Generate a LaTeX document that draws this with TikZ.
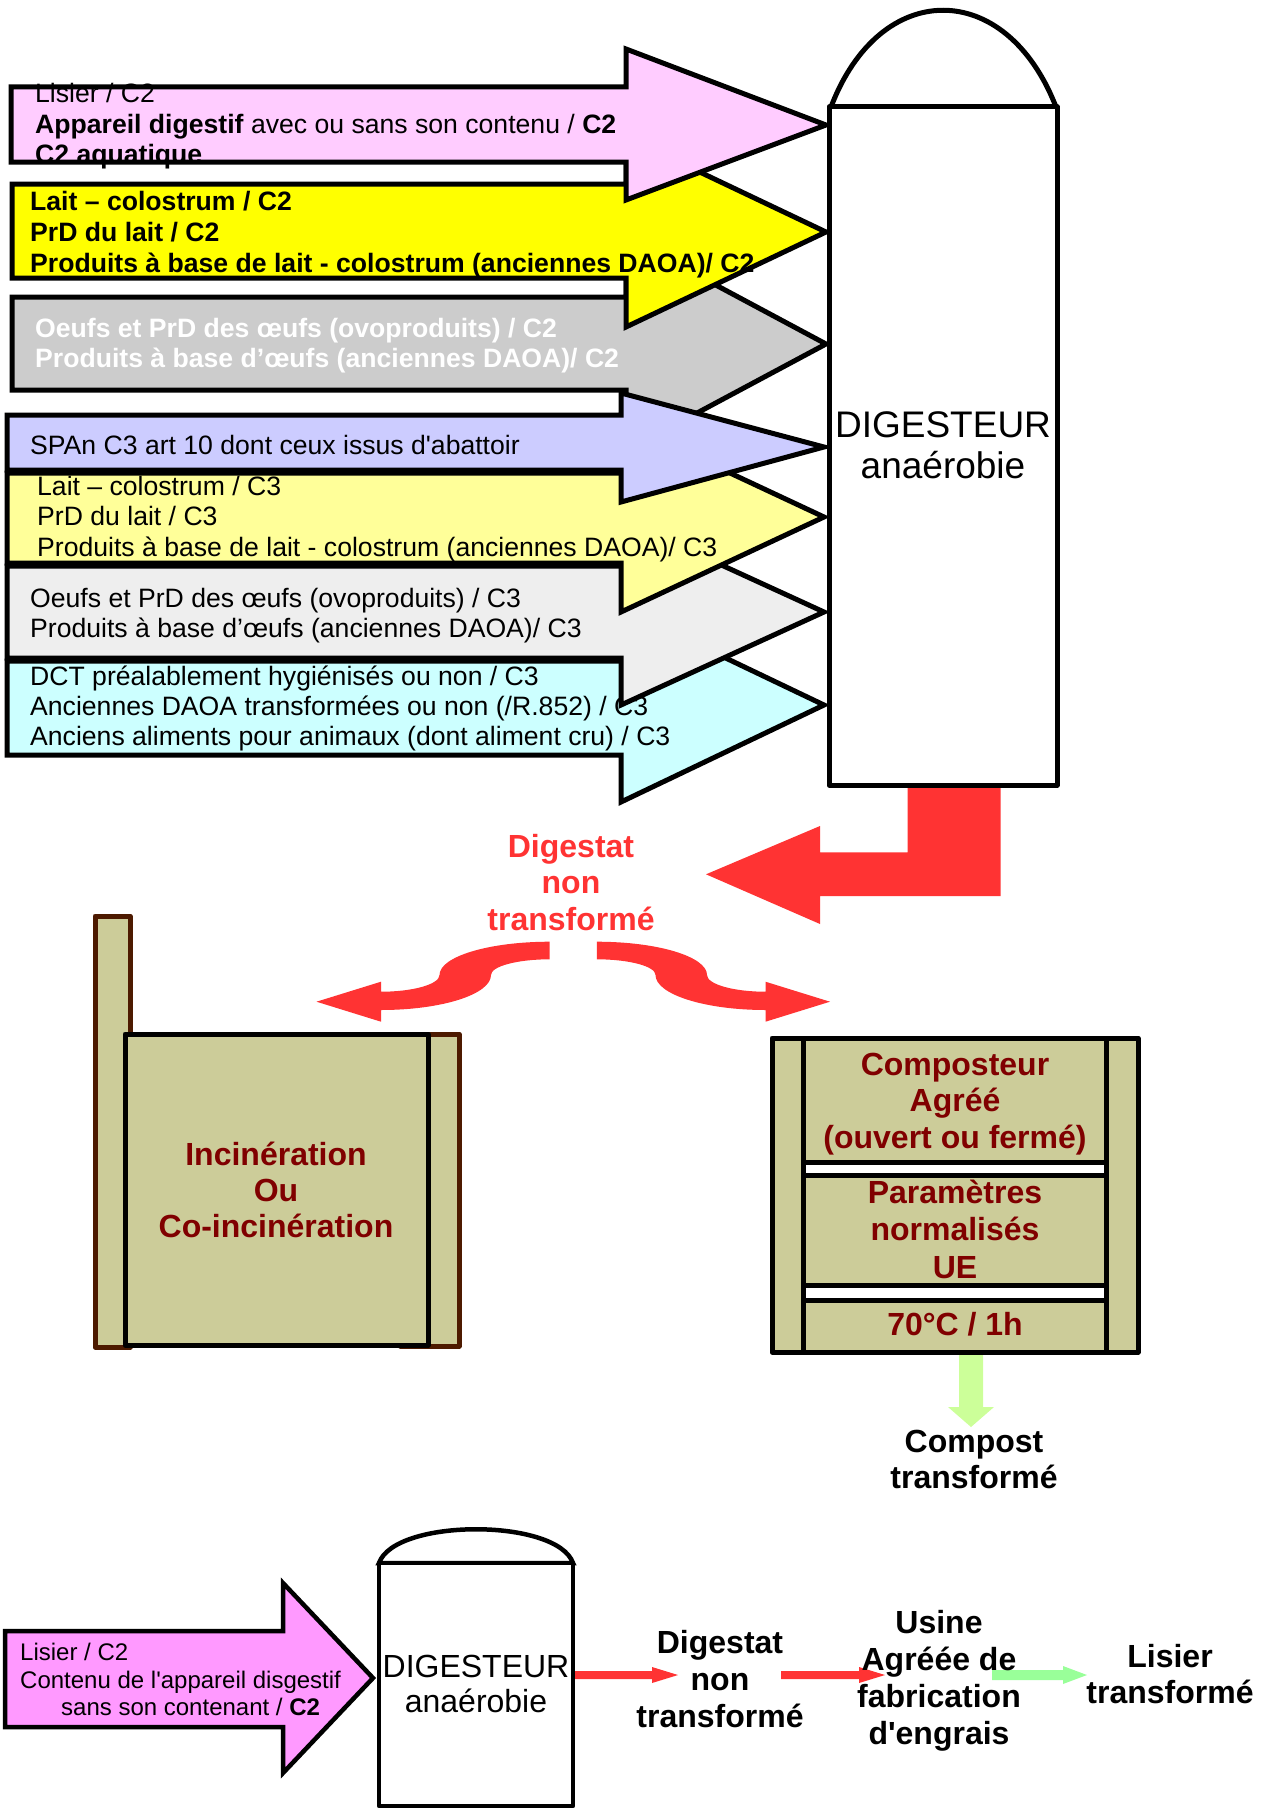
\documentclass[tikz,border=0pt]{standalone}
\usepackage{fontspec}
\setmainfont{Liberation Sans}
\definecolor{pinkA}{HTML}{FFCCFF}
\definecolor{pinkB}{HTML}{FF99FF}
\definecolor{yellowA}{HTML}{FFFF00}
\definecolor{yellowB}{HTML}{FFFF99}
\definecolor{grayA}{HTML}{CCCCCC}
\definecolor{grayB}{HTML}{EEEEEE}
\definecolor{lavA}{HTML}{CCCCFF}
\definecolor{cyanA}{HTML}{CCFFFF}
\definecolor{redA}{HTML}{FF3333}
\definecolor{khaki}{HTML}{CCCC99}
\definecolor{darkred}{HTML}{800000}
\definecolor{brownA}{HTML}{4D1A00}
\definecolor{greenA}{HTML}{CCFF99}
\definecolor{greenB}{HTML}{99FF99}
\tikzset{
  blk/.style={draw=black, line width=5pt, line join=miter},
  bld/.style={line width=5pt, line join=round},
  t26/.style={inner sep=0pt, anchor=base west, font=\fontsize{26.6}{30}\selectfont},
  t26b/.style={t26, font=\fontsize{26.6}{30}\selectfont\bfseries},
  t26w/.style={t26b, text=white},
  t24/.style={inner sep=0pt, anchor=base west, font=\fontsize{24}{28}\selectfont},
  tb32/.style={inner sep=0pt, anchor=base, font=\fontsize{32}{36}\selectfont\bfseries},
  tdr/.style={tb32, text=darkred},
  tred/.style={tb32, text=redA},
  tdig/.style={inner sep=0pt, anchor=base, font=\fontsize{37}{40}\selectfont},
  tdigs/.style={inner sep=0pt, anchor=base, font=\fontsize{32}{36}\selectfont},
}
% #1 style, #2 x0, #3 top, #4 bottom, #5 head x, #6 head top, #7 head bottom, #8 tip x, #9 tip y
\newcommand\blockarrow[9]{\path[#1] (#2,#3) -- (#5,#3) -- (#5,#6) -- (#8,#9) -- (#5,#7) -- (#5,#4) -- (#2,#4) -- cycle;}
% #1 name, #2 x, #3 first baseline y, #4 line step, #5 style, #6 lines
\newcommand\txtlines[6]{\foreach \lline [count=\ii from 0] in {#6}{\node[#5] (#1\ii) at (#2,{#3+\ii*#4}) {\lline};}}
\begin{document}
\begin{tikzpicture}[x=1pt,y=-1pt]
\useasboundingbox (0,0) rectangle (1266,1809);

% ---------- input arrows ----------
\blockarrow{blk,fill=cyanA}{7}{661}{755}{621}{608}{802}{824}{705}
\txtlines{cy}{30}{685}{30}{t26}{DCT préalablement hygiénisés ou non / C3, Anciennes DAOA transformées ou non (/R.852) / C3, Anciens aliments pour animaux (dont aliment cru) / C3}

\blockarrow{blk,fill=grayB}{7}{566}{658}{621}{519}{705}{824}{612}
\txtlines{gb}{30}{607}{30}{t26}{Oeufs et PrD des œufs (ovoproduits) / C3, Produits à base d’œufs (anciennes DAOA)/ C3}

\blockarrow{blk,fill=yellowB}{7}{473}{563}{621}{422}{612}{824}{517}
\txtlines{yb}{37}{495}{30.5}{t26}{Lait – colostrum / C3, PrD du lait / C3, Produits à base de lait - colostrum (anciennes DAOA)/ C3}

\blockarrow{blk,fill=grayA}{12}{297}{390}{626}{237}{451}{826}{344}
\txtlines{ga}{35}{337}{30}{t26w}{Oeufs et PrD des œufs (ovoproduits) / C2, Produits à base d’œufs (anciennes DAOA)/ C2}

\blockarrow{blk,fill=lavA}{7}{415}{470}{621}{393}{502}{824}{447}
\node[t26] (lav0) at (30,454) {SPAn C3 art 10 dont ceux issus d\textquotesingle abattoir};

\blockarrow{blk,fill=yellowA}{12}{184}{278}{626}{137}{327}{826}{232}
\txtlines{ya}{30}{210}{31}{t26b}{Lait – colostrum / C2, PrD du lait / C2, Produits à base de lait - colostrum (anciennes DAOA)/ C2}

\blockarrow{blk,fill=pinkA}{11}{87}{162}{626}{49}{200}{826}{125}
\node[t26] (pk0) at (35,103) {Lisier / C2};
\node[t26] (pk1) at (35,133) {\textbf{Appareil digestif} avec ou sans son contenu / \textbf{C2}};
\node[t26b] (pk2) at (35,163) {C2 aquatique};

% ---------- red L arrow out of digester ----------
\path[fill=redA] (907.7,786) -- (1000.7,786) -- (1000.7,896) -- (820,896) -- (820,924)
  -- (706,874.3) -- (820,826) -- (820,852.3) -- (907.7,852.3) -- cycle;

% ---------- main digester ----------
\path[draw=black, line width=5pt, fill=white] (831,107) .. controls (880,-22) and (1006,-22) .. (1056,107) -- cycle;
\path[draw=black, line width=5pt, fill=white, line join=round] (829,107) rectangle (1057,785);
\node[tdig] (dig1) at (943,437) {DIGESTEUR};
\node[tdig] (dig2) at (943,478) {anaérobie};

% ---------- digestat label and curved arrows ----------
\txtlines{dn}{571}{857}{36.5}{tred}{Digestat, non, transformé}
\newcommand\sarrow{\path[fill=redA] (549.7,941.7) .. controls (488.8,941.7) and (439.5,956.6) .. (439.5,975)
  .. controls (439.5,984.2) and (413.3,991.7) .. (381,991.7)
  -- (381,981.7) -- (316.5,1001.7) -- (381,1021.7) -- (381,1010)
  .. controls (441.8,1010) and (491,994.3) .. (491,975)
  .. controls (491,966.3) and (517.3,959.3) .. (549.7,959.3) -- cycle;}
\sarrow
\begin{scope}[shift={(1146.5,0)}, xscale=-1]
\sarrow
\end{scope}

% ---------- incineration ----------
\path[bld, draw=brownA, fill=khaki] (95,916) rectangle (130,1347);
\path[bld, draw=brownA, fill=khaki] (400,1034) rectangle (459,1346);
\path[bld, draw=black, fill=khaki] (125,1034) rectangle (428,1345);
\txtlines{inc}{276}{1165}{36}{tdr}{Incinération, Ou, Co-incinération}

% ---------- composter ----------
\path[fill=greenA] (959,1352) -- (983,1352) -- (983,1407) -- (994,1407) -- (971,1427) -- (948,1407) -- (959,1407) -- cycle;
\path[bld, draw=black, fill=khaki] (772,1038) rectangle (1138,1352);
\path[bld, draw=black, fill=khaki] (803,1038) rectangle (1106,1162);
\path[bld, draw=black, fill=white] (803,1162) rectangle (1106,1175);
\path[bld, draw=black, fill=khaki] (803,1175) rectangle (1106,1285);
\path[bld, draw=black, fill=white] (803,1285) rectangle (1106,1300);
\path[bld, draw=black, fill=khaki] (803,1300) rectangle (1106,1352);
\txtlines{cpa}{955}{1075}{36.5}{tdr}{Composteur, Agréé, (ouvert ou fermé)}
\txtlines{cpb}{955}{1203}{37.5}{tdr}{Paramètres, normalisés, UE}
\node[tdr] (cpc) at (955,1335) {70°C / 1h};
\txtlines{cmp}{974}{1452}{36}{tb32}{Compost, transformé}

% ---------- bottom chain ----------
\blockarrow{draw=black, line width=4.5pt, line join=miter, fill=pinkB}{5}{1631}{1727}{283}{1583}{1773}{373}{1678}
\node[t24] (bp0) at (20,1660) {Lisier / C2};
\node[t24] (bp1) at (20,1688) {Contenu de l\textquotesingle appareil disgestif};
\node[t24] (bp2) at (61,1715) {sans son contenant / \textbf{C2}};

\path[fill=redA] (573,1671) -- (652,1671) -- (652,1667) -- (678,1675) -- (652,1683) -- (652,1679) -- (573,1679) -- cycle;
\path[fill=redA] (781,1671) -- (859,1671) -- (859,1667) -- (885,1675) -- (859,1683) -- (859,1679) -- (781,1679) -- cycle;
\path[fill=greenB] (992,1670) -- (1063,1670) -- (1063,1666) -- (1087,1675) -- (1063,1684) -- (1063,1680) -- (992,1680) -- cycle;

\path[draw=black, line width=4.5pt, fill=white] (379,1563) .. controls (395,1518) and (557,1518) .. (573,1563) -- cycle;
\path[draw=black, line width=4.5pt, fill=white, line join=round] (379,1563) rectangle (573,1806);
\node[tdigs] (bd1) at (476,1677) {DIGESTEUR};
\node[tdigs] (bd2) at (476,1712) {anaérobie};

\txtlines{bdn}{720}{1653}{37}{tb32}{Digestat, non, transformé}
\txtlines{usn}{939}{1633}{37.3}{tb32}{Usine, Agréée de, fabrication, d\textquotesingle engrais}
\txtlines{lst}{1170}{1667}{36}{tb32}{Lisier, transformé}
\end{tikzpicture}
\end{document}
